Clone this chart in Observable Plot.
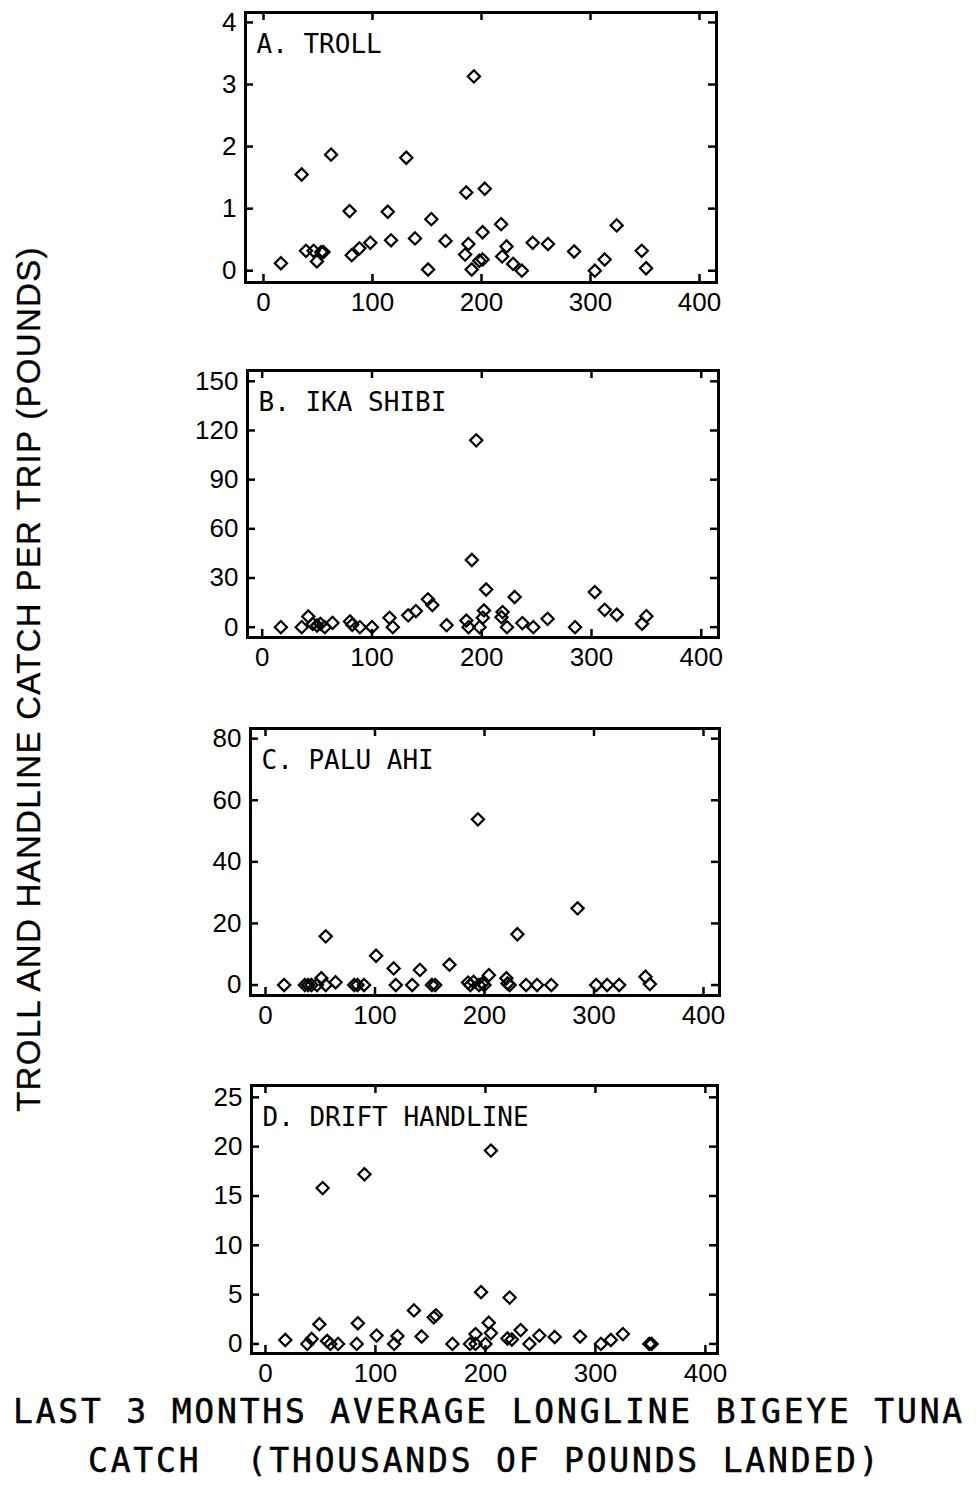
<!DOCTYPE html>
<html>
<head>
<meta charset="utf-8">
<script src="https://cdn.jsdelivr.net/npm/d3@7"></script>
<script src="https://cdn.jsdelivr.net/npm/@observablehq/plot@0.6"></script>
<style>
  body { margin: 0; background: #fff; }
  #page { position: relative; width: 979px; height: 1487px; overflow: hidden; background: #fff; }
  .panel { position: absolute; left: 0; }
  #ylab {
    position: absolute; left: 28px; top: 679px;
    transform: translate(-50%, -50%) rotate(-90deg);
    font-family: "Liberation Sans", Arial, sans-serif; font-size: 33px; letter-spacing: 1.3px;
    white-space: nowrap; color: #000; line-height: 33px; -webkit-text-stroke: 0.3px #000;
  }
  .xlab {
    position: absolute; font-family: "DejaVu Sans Mono", monospace;
    font-size: 33px; letter-spacing: 2.8px; white-space: pre; color: #000; line-height: 33px;
    -webkit-text-stroke: 0.5px #000;
  }
</style>
</head>
<body>
<div id="page">
  <div id="ylab">TROLL AND HANDLINE CATCH PER TRIP (POUNDS)</div>
  <div class="xlab" style="left:13px; top:1395px;">LAST 3 MONTHS AVERAGE LONGLINE BIGEYE TUNA</div>
  <div class="xlab" style="left:88px; top:1444px;">CATCH  (THOUSANDS OF POUNDS LANDED)</div>
</div>
<script>
// Longline bigeye catch, last 3 months average (thousands of lb landed)
const xTicks = [0, 100, 200, 300, 400];

// A. Troll
const trollX = [16, 35, 39, 46, 49, 53, 55, 62, 79, 81, 88, 98, 114, 117, 131, 139, 151, 154, 167, 185,
  186, 188, 191, 193, 198, 201, 201, 203, 218, 219, 223, 229, 237, 247, 261, 285, 304, 313, 324, 347, 351];
const trollY = [0.12, 1.55, 0.32, 0.32, 0.15, 0.3, 0.3, 1.87, 0.96, 0.25, 0.36, 0.45, 0.95, 0.49, 1.82, 0.52, 0.02, 0.83, 0.48, 0.26,
  1.26, 0.43, 0.02, 3.13, 0.16, 0.18, 0.62, 1.32, 0.75, 0.23, 0.39, 0.11, 0, 0.45, 0.43, 0.31, 0, 0.18, 0.73, 0.32, 0.04];
const trollTicks = [0, 1, 2, 3, 4];

// B. Ika shibi
const ikaX = [17, 36, 42, 46, 50, 53, 57, 64, 80, 82, 89, 100, 116, 119, 133, 140, 151, 155, 168, 186,
  188, 191, 195, 198, 201, 202, 204, 218, 219, 223, 230, 237, 247, 260, 285, 303, 312, 323, 346, 350];
const ikaY = [0, 0, 6.5, 2, 1, 2, 0, 2.6, 3.5, 1.5, 0, 0, 5.7, 0, 7.2, 9.8, 17, 13.5, 1.2, 4,
  0, 41, 114, 0, 5.8, 10.2, 23, 6.1, 9.2, 0, 18.4, 2.5, 0, 5.1, 0, 21.4, 10.6, 7.6, 2.1, 6.7];
const ikaTicks = [0, 30, 60, 90, 120, 150];

// C. Palu ahi
const paluX = [17, 36, 39, 42, 47, 51, 55, 55, 64, 81, 84, 90, 101, 117, 119, 134, 141, 152, 155, 168,
  185, 187, 190, 194, 195, 198, 200, 204, 220, 221, 223, 230, 238, 248, 261, 285, 302, 312, 323, 347, 351];
const paluY = [0, 0, 0, 0, 0, 2.2, 15.8, 0, 0.9, 0, 0, 0, 9.5, 5.4, 0, 0, 4.9, 0, 0, 6.6,
  0.8, 0, 1, 53.8, 0, 0.5, 0, 3.2, 2.2, 0.5, 0, 16.5, 0, 0, 0, 24.9, 0, 0, 0, 2.7, 0.3];
const paluTicks = [0, 20, 40, 60, 80];

// D. Drift handline
const driftX = [18, 38, 42, 49, 52, 56, 59, 66, 83, 84, 90, 101, 117, 120, 135, 142, 153, 155, 170, 186,
  191, 191, 196, 200, 203, 205, 205, 220, 222, 224, 232, 240, 249, 263, 286, 305, 314, 325, 349, 351];
const driftY = [0.4, 0, 0.5, 2, 15.8, 0.3, 0, 0, 0, 2.1, 17.2, 0.85, 0, 0.8, 3.4, 0.75, 2.7, 2.9, 0, 0,
  1, 0, 5.25, 0, 2.15, 19.6, 1.1, 0.55, 4.7, 0.45, 1.4, 0, 0.85, 0.7, 0.75, 0, 0.4, 1, 0, 0];
const driftTicks = [0, 5, 10, 15, 20, 25];

const titles = ["A. TROLL", "B. IKA SHIBI", "C. PALU AHI", "D. DRIFT HANDLINE"];

// Panel layout: frame edges on the page [left, right, top, bottom] and scale domains
const layout = [
  {frame: [245, 716, 12, 282],    xDomain: [-16.5, 415.6], yDomain: [-0.19, 4.16]},
  {frame: [247, 718, 370, 637],   xDomain: [-13.4, 415.7], yDomain: [-6.3, 156.6]},
  {frame: [250, 719, 728, 995],   xDomain: [-13.7, 414.6], yDomain: [-3.4, 83.3]},
  {frame: [251, 717, 1085, 1353], xDomain: [-12.7, 411],   yDomain: [-0.97, 26.2]}
];

const series = [
  [trollX, trollY, trollTicks],
  [ikaX, ikaY, ikaTicks],
  [paluX, paluY, paluTicks],
  [driftX, driftY, driftTicks]
];

const page = document.getElementById("page");
const W = 979, mt = 10, mb = 45;

series.forEach(([xs, ys, yTicks], i) => {
  const {frame: [l, r, t, b], xDomain, yDomain} = layout[i];
  const fw = r - l, fh = b - t;
  const data = xs.map((x, j) => ({x, y: ys[j]}));
  const chart = Plot.plot({
    width: W,
    height: fh + mt + mb,
    marginLeft: l,
    marginRight: W - r,
    marginTop: mt,
    marginBottom: mb,
    style: {background: "transparent", color: "#000", fontFamily: "'Liberation Sans', Arial, sans-serif", overflow: "visible"},
    x: {domain: xDomain},
    y: {domain: yDomain},
    marks: [
      Plot.axisX(xTicks, {anchor: "bottom", tickSize: 0, tickPadding: 10, fontSize: 26, label: null, tickFormat: d => String(d)}),
      Plot.axisY(yTicks, {anchor: "left", tickSize: 0, tickPadding: 9, fontSize: 26, label: null, tickFormat: d => String(d)}),
      // inward ticks on all four sides
      Plot.tickX(xTicks, {x: d => d, insetTop: fh - 8, stroke: "#000", strokeWidth: 2.5}),
      Plot.tickX(xTicks, {x: d => d, insetBottom: fh - 8, stroke: "#000", strokeWidth: 2.5}),
      Plot.tickY(yTicks, {y: d => d, insetRight: fw - 8, stroke: "#000", strokeWidth: 2.5}),
      Plot.tickY(yTicks, {y: d => d, insetLeft: fw - 8, stroke: "#000", strokeWidth: 2.5}),
      Plot.dot(data, {x: "x", y: "y", symbol: "diamond2", r: 5.5, stroke: "#000", strokeWidth: 2.2, fill: "none"}),
      Plot.frame({stroke: "#000", strokeWidth: 3}),
      Plot.text([titles[i]], {text: d => d, frameAnchor: "top-left", dx: 11, dy: 22,
        fontFamily: "'DejaVu Sans Mono', monospace", fontSize: 26, fill: "#000"})
    ]
  });
  chart.classList.add("panel");
  chart.style.top = (t - mt) + "px";
  page.appendChild(chart);
});
</script>
</body>
</html>
